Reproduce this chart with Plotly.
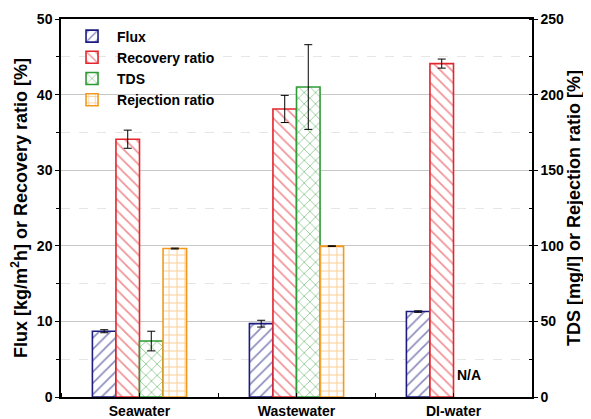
import plotly.graph_objects as go

categories = ["Seawater", "Wastewater", "DI-water"]
cat_pos = [0, 1, 2]

flux = [8.7, 9.7, 11.3]
flux_err = [0.2, 0.45, 0.1]
recovery = [34.1, 38.1, 44.1]
recovery_err = [1.2, 1.8, 0.6]
tds = [37.0, 205.0, None]
tds_err = [6.5, 28.0, None]
rejection = [98.2, 99.8, None]
rejection_err = [0.3, 0.2, None]

FONT = "Liberation Sans"
colors = {"Flux": "#1c1c80", "Recovery ratio": "#e3262e", "TDS": "#2e9a33", "Rejection ratio": "#f39a1e"}
shapes = {"Flux": "/", "Recovery ratio": "\\", "TDS": "x", "Rejection ratio": "+"}
W = 0.15

fig = go.Figure()

def add(name, vals, errs, offset, yaxis):
    c = colors[name]
    fig.add_trace(go.Bar(
        name=name, x=cat_pos, y=vals, width=W, offset=offset, yaxis=yaxis,
        marker=dict(color="white", line=dict(color=c, width=1.6),
                    pattern=dict(shape=shapes[name], fgcolor=c, bgcolor="white",
                                 size=8, solidity=0.22, fillmode="overlay")),
        error_y=dict(type="data", array=errs, color="black", thickness=1, width=4),
    ))

add("Flux", flux, flux_err, -0.30, "y")
add("Recovery ratio", recovery, recovery_err, -0.15, "y")
add("TDS", tds, tds_err, 0.0, "y2")
add("Rejection ratio", rejection, rejection_err, 0.15, "y2")

fig.add_annotation(x=2.1, y=2.9, xref="x", yref="y", text="<b>N/A</b>", showarrow=False,
                   font=dict(family=FONT, size=14, color="black"))

# page body has an 8px margin, so the figure is 8px smaller than the window
fig.update_layout(
    width=583, height=411,
    margin=dict(l=53, r=59, t=11, b=22),
    plot_bgcolor="white", paper_bgcolor="white",
    barmode="overlay",
    font=dict(family=FONT, size=14, color="black"),
    showlegend=True,
    legend=dict(x=0.0128, y=0.996, xanchor="left", yanchor="top",
                bgcolor="rgba(0,0,0,0)",
                font=dict(family=FONT, size=14, color="black", weight="bold"),
                tracegroupgap=0, itemwidth=40),
    xaxis=dict(range=[-0.5, 2.5], tickvals=cat_pos, ticktext=["<b>%s</b>" % c for c in categories],
               ticks="", showline=True, linecolor="black", linewidth=1.5, mirror=True,
               showgrid=False, zeroline=False, automargin=False,
               minor=dict(dtick=0.5, tick0=0, ticks="inside", ticklen=4, tickcolor="black", showgrid=False),
               tickfont=dict(family=FONT, size=14, weight="bold")),
    yaxis=dict(range=[0, 50], dtick=10, showline=True, linecolor="black", linewidth=1.5,
               ticks="outside", ticklen=4, tickcolor="black", automargin=False,
               showgrid=True, gridcolor="#c8c8c8", gridwidth=1, zeroline=False,
               minor=dict(dtick=5, ticks="outside", ticklen=3, tickcolor="black",
                          showgrid=True, gridcolor="#e6e6e6", griddash="dash"),
               tickfont=dict(family=FONT, size=14, weight="bold"),
               title=dict(text="<b>Flux [kg/m<sup>2</sup>h] or Recovery ratio [%]</b>",
                          font=dict(family=FONT, size=18))),
    yaxis2=dict(range=[0, 250], dtick=50, overlaying="y", side="right", showline=True,
                linecolor="black", linewidth=1.5, ticks="outside", ticklen=4, tickcolor="black",
                showgrid=False, zeroline=False, automargin="right",
                minor=dict(dtick=25, ticks="inside", ticklen=3, tickcolor="black"),
                tickfont=dict(family=FONT, size=14, weight="bold"),
                title=dict(text="<b>TDS [mg/l] or Rejection ratio [%]</b>", standoff=2,
                           font=dict(family=FONT, size=18))),
)

fig.write_html("out.html")
